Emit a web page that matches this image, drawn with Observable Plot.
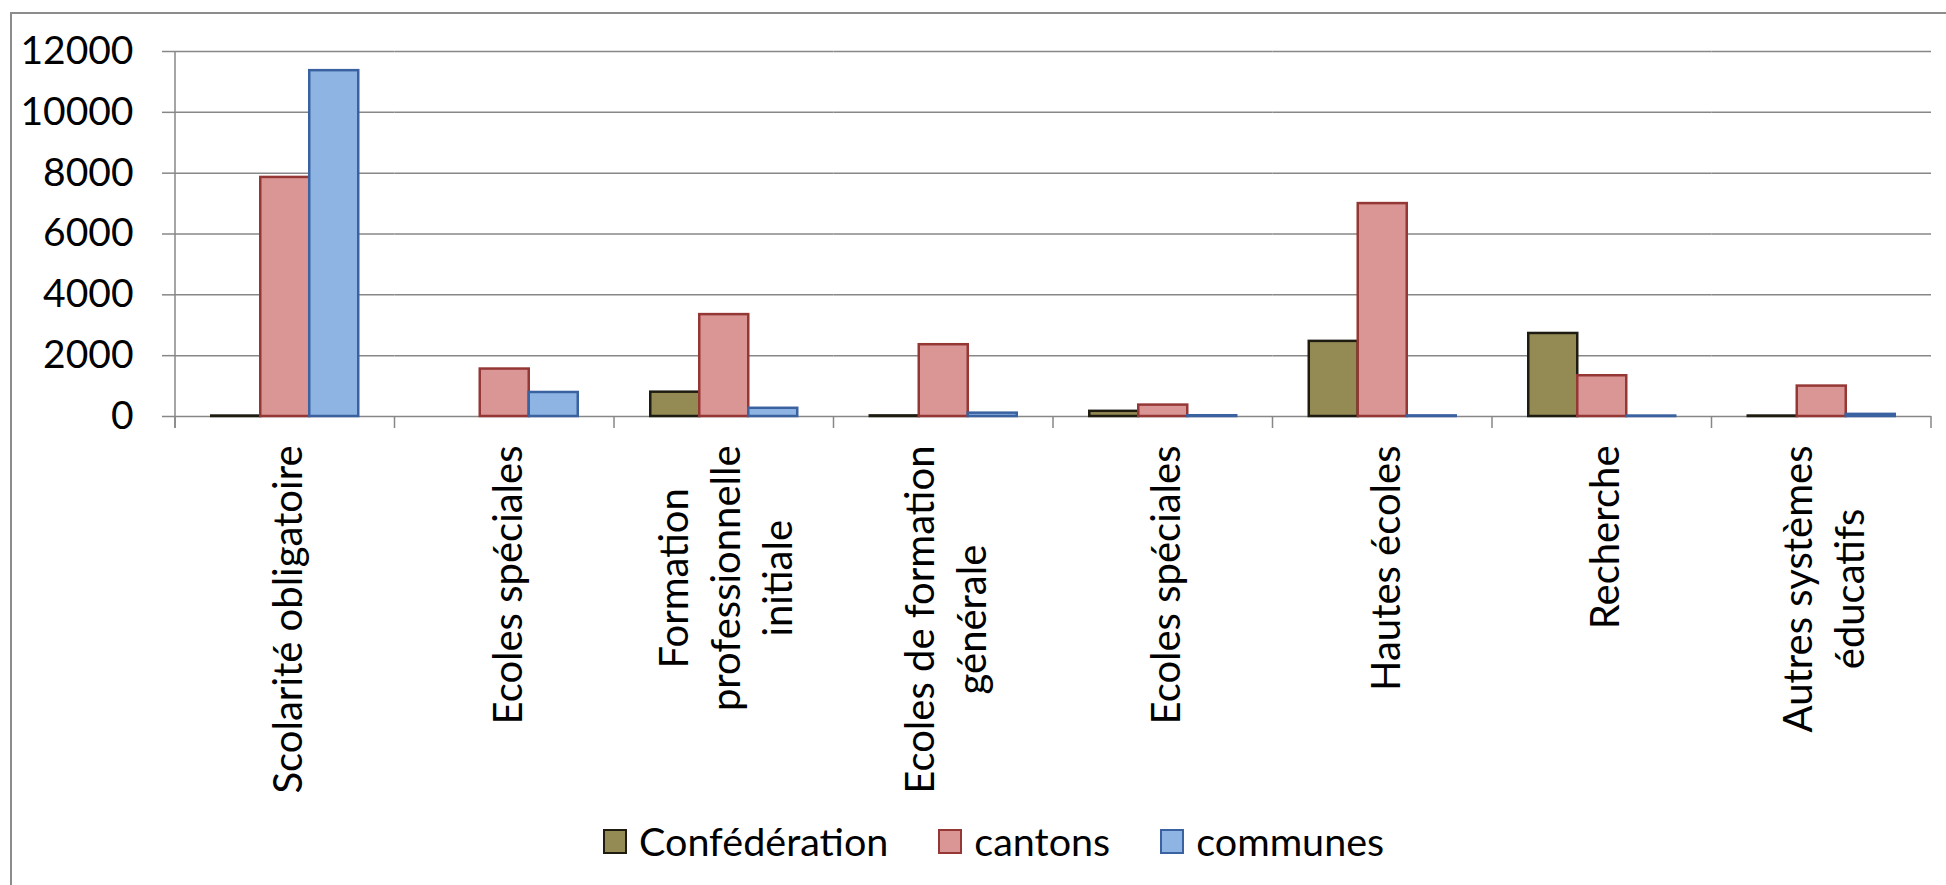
<!DOCTYPE html>
<html><head><meta charset="utf-8">
<script src="https://cdn.jsdelivr.net/npm/d3@7"></script>
<script src="https://cdn.jsdelivr.net/npm/@observablehq/plot@0.6"></script>
<style>
html,body{margin:0;padding:0;background:#fff;overflow:hidden}
#wrap{position:relative;width:1946px;height:885px;font-family:Lato,sans-serif;overflow:hidden}
#border{position:absolute;left:10px;top:12px;width:2000px;height:1000px;border-left:2px solid #8c8c8c;border-top:2px solid #8c8c8c;box-sizing:border-box}
#chart{position:absolute;left:0;top:0}
#legend{position:absolute;left:603px;top:818px;display:flex;align-items:center;font-size:39.5px;color:#000;line-height:46px}
#legend .item{display:flex;align-items:center;margin-right:50px}
#legend .sw{width:20px;height:21px;border:2.5px solid;margin-right:12px}
</style></head>
<body><div id="wrap"><div id="border"></div><div id="chart"></div><div id="legend"></div></div>
<script>
const categories = ["Scolarité obligatoire", "Ecoles spéciales", "Formation\nprofessionnelle\ninitiale", "Ecoles de formation\ngénérale", "Ecoles spéciales", "Hautes écoles", "Recherche", "Autres systèmes\néducatifs"];
const series = ["Confédération", "cantons", "communes"];
const confederation = [15, null, 800, 20, 170, 2470, 2730, 15];
const cantons = [7860, 1560, 3350, 2360, 375, 7000, 1340, 1000];
const communes = [11370, 790, 270, 110, 25, 20, 15, 70];
const yTicks = [0, 2000, 4000, 6000, 8000, 10000, 12000];

const fills = ["#948A54", "#D99694", "#8EB4E3"];
const strokes = ["#1E1C11", "#953735", "#3A62A0"];
const grey = "#878787";
const labelSize = 40;

const valuesBySeries = [confederation, cantons, communes];
const keys = categories.map((c, i) => i);
const table = categories.flatMap((c, i) => series.map((s, j) => ({key: i, series: s, value: valuesBySeries[j][i]})))
  .filter(d => d.value != null);

let drawn = false;
function boundaries(index, scales) {
  if (drawn) return null;
  drawn = true;
  const {fx, y} = scales;
  const g = d3.create("svg:g").attr("stroke", grey).attr("stroke-width", 1.5).attr("fill", "none");
  let xs;
  if (fx && fx.bandwidth) {
    const dom = fx.domain(), bw = fx.bandwidth();
    xs = dom.map(k => fx(k)).concat([fx(dom[dom.length - 1]) + bw]);
  } else {
    const [r0, r1] = scales.x.range();
    xs = keys.map(k => r0 + k * (r1 - r0)).concat([r0 + keys.length * (r1 - r0)]);
  }
  const y0 = y(0), yb = y(0) + 12;
  g.selectAll("line.t").data(xs).join("line").attr("class", "t")
    .attr("x1", d => d).attr("x2", d => d).attr("y1", y0).attr("y2", yb);
  g.append("line").attr("x1", xs[0]).attr("x2", xs[0]).attr("y1", y(yTicks[yTicks.length - 1])).attr("y2", yb);
  return g.node();
}

const chart = Plot.plot({
  width: 1946,
  height: 800,
  marginTop: 51,
  marginBottom: 384,
  marginLeft: 175,
  marginRight: 15,
  style: {fontFamily: "Lato, sans-serif", fontSize: "40px", color: "#000", background: "transparent"},
  fx: {domain: keys, padding: 0, round: false, axis: null},
  x: {domain: series, paddingInner: 0, paddingOuter: 0.74, round: false, axis: null},
  y: {domain: [0, 12000], axis: null},
  marks: [
    Plot.ruleY(yTicks, {stroke: grey, strokeWidth: 1.5}),
    Plot.axisY({ticks: yTicks, tickSize: 13, tickPadding: 29, tickFormat: d => String(d), stroke: grey, strokeWidth: 1.5, fill: "#000", fontSize: 39, label: null}),
    ...series.map((s, j) => Plot.barY(table, {
      filter: d => d.series === s,
      fx: "key", x: "series", y: "value",
      fill: fills[j], stroke: strokes[j], strokeWidth: 2.5
    })),
    boundaries,
    Plot.text(keys, {
      fx: d => d,
      text: d => categories[d],
      frameAnchor: "bottom",
      rotate: -90,
      textAnchor: "middle",
      lineAnchor: "middle",
      lineHeight: 1.3,
      fontSize: labelSize,
      fill: "#000"
    })
  ]
});

document.getElementById("chart").append(chart);

// place each rotated label: top end just below the axis ticks, baselines centred on the category
const topY = chart.scale("y").apply(0) + 29;
const asc = 0.987 * labelSize, desc = 0.213 * labelSize;
const squash = s => s.replace(/\s+/g, "");
const labelNodes = Array.from(chart.querySelectorAll("text")).filter(t =>
  categories.some(c => squash(c) === squash(t.textContent)));
labelNodes.forEach(t => {
  const bb = t.getBBox();
  const tr = t.getAttribute("transform") || "";
  const m = /translate\(\s*([-\d.e]+)[ ,]+([-\d.e]+)\s*\)/.exec(tr);
  const cx = m ? +m[1] : +(t.getAttribute("x") || 0);
  const multi = t.querySelectorAll("tspan").length > 1;
  const tx = multi ? cx + 16.5 - (bb.y + (asc + bb.height - desc) / 2) : cx + 17;
  t.removeAttribute("x"); t.removeAttribute("y");
  t.setAttribute("transform", `translate(${tx},${topY + bb.width / 2}) rotate(-90)`);
});

const legend = d3.select("#legend");
series.forEach((s, j) => {
  const it = legend.append("div").attr("class", "item");
  it.append("div").attr("class", "sw").style("background", fills[j]).style("border-color", strokes[j]);
  it.append("span").text(s);
});
</script>
</body></html>
